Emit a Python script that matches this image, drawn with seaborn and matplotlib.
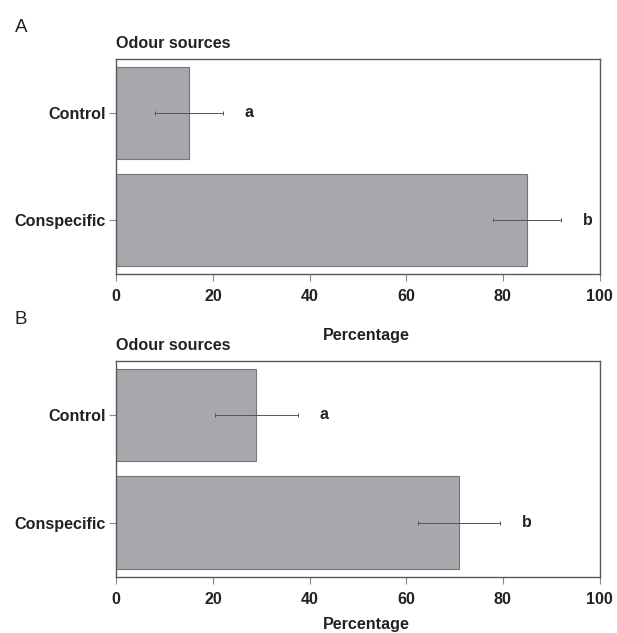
import matplotlib
matplotlib.use("Agg")
import matplotlib.pyplot as plt
import seaborn as sns
import pandas as pd

# Odour choice data: percentage of animals choosing each source (mean, error)
categories = ["Control", "Conspecific"]
pct_a = [15, 85]
err_a = [7, 7]
letters_a = ["a", "b"]
pct_b = [29, 71]
err_b = [8.5, 8.5]
letters_b = ["a", "b"]
xticks = [0, 20, 40, 60, 80, 100]

sns.set_theme(style="white")
plt.rcParams["font.family"] = ["Liberation Sans", "DejaVu Sans"]

BAR = "#a7a8ab"
EDGE = "#747578"
SPINE = "#5a5a5a"
TXT = "#222222"

fig = plt.figure(figsize=(6.17, 6.33), dpi=100)
ax_a = fig.add_axes([0.1885, 0.5671, 0.7832, 0.3397])
ax_b = fig.add_axes([0.1885, 0.0889, 0.7832, 0.3407])


def draw_panel(ax, values, errors, letters, xlabel_y):
    df = pd.DataFrame({"source": categories, "pct": values})
    sns.barplot(data=df, x="pct", y="source", orient="h", ax=ax,
                color=BAR, edgecolor=EDGE, linewidth=0.8, width=0.86,
                saturation=1, errorbar=None)
    ax.errorbar(values, range(len(categories)), xerr=errors, fmt="none",
                ecolor="#555555", elinewidth=0.7, capsize=1.6, capthick=0.7)
    for i, (v, e, lab) in enumerate(zip(values, errors, letters)):
        ax.text(v + e + 5.5, i, lab, ha="center", va="center",
                fontsize=11.5, fontweight="bold", color=TXT)
    ax.set_xlim(0, 100)
    ax.set_ylim(1.5, -0.5)
    ax.set_xticks(xticks)
    ax.set_xticklabels([str(t) for t in xticks])
    ax.tick_params(axis="both", which="both", length=5, width=0.8,
                   color="#888888", labelsize=11.6, labelcolor=TXT, pad=2.5)
    ax.tick_params(axis="x", bottom=True, pad=6)
    ax.tick_params(axis="y", left=True)
    for lab in ax.get_xticklabels() + ax.get_yticklabels():
        lab.set_fontweight("bold")
    for sp in ax.spines.values():
        sp.set_visible(True)
        sp.set_color(SPINE)
        sp.set_linewidth(1.0)
    ax.set_ylabel("")
    ax.set_xlabel("Percentage", fontsize=11.6, fontweight="bold", color=TXT)
    ax.xaxis.set_label_coords(0.517, xlabel_y)
    ax.xaxis.label.set_va("center")
    ax.text(0.0, 1.07, "Odour sources", transform=ax.transAxes,
            ha="left", va="center", fontsize=11.6, fontweight="bold",
            color=TXT)


draw_panel(ax_a, pct_a, err_a, letters_a, -0.284)
draw_panel(ax_b, pct_b, err_b, letters_b, -0.22)

fig.text(15 / 617, 1 - 27 / 633, "A", ha="left", va="center",
         fontsize=13.5, color=TXT)
fig.text(15 / 617, 1 - 319 / 633, "B", ha="left", va="center",
         fontsize=13.5, color=TXT)

fig.savefig("out.png", dpi=100, facecolor="white")
